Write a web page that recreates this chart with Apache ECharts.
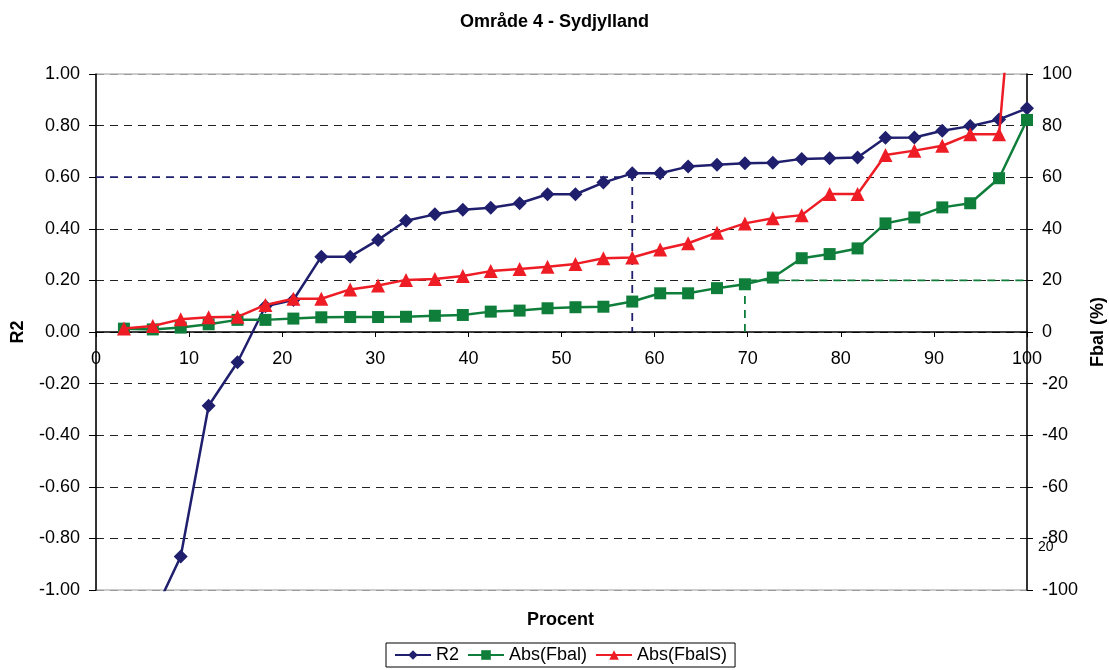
<!DOCTYPE html>
<html>
<head>
<meta charset="utf-8">
<script src="https://cdn.jsdelivr.net/npm/echarts@6/dist/echarts.min.js"></script>
<style>html,body{margin:0;padding:0;background:#fff;}#c{width:1109px;height:670px;}</style>
</head>
<body>
<div id="c"></div>
<script>
const titleText = 'Område 4 - Sydjylland';
const xName = 'Procent';
const yLeftName = 'R2';
const yRightName = 'Fbal (%)';
const procent = [3.0, 6.1, 9.1, 12.1, 15.2, 18.2, 21.2, 24.2, 27.3, 30.3, 33.3, 36.4, 39.4, 42.4, 45.5, 48.5, 51.5, 54.5, 57.6, 60.6, 63.6, 66.7, 69.7, 72.7, 75.8, 78.8, 81.8, 84.8, 87.9, 90.9, 93.9, 97.0, 100.0];
const r2 = [-1.6, -1.10, -0.87, -0.286, -0.117, 0.10, 0.124, 0.292, 0.292, 0.357, 0.431, 0.456, 0.474, 0.482, 0.499, 0.534, 0.534, 0.579, 0.615, 0.615, 0.641, 0.648, 0.654, 0.656, 0.671, 0.673, 0.676, 0.753, 0.754, 0.780, 0.798, 0.824, 0.867];
const absFbal = [1.3, 1.0, 1.7, 3.0, 4.7, 4.7, 5.2, 5.7, 5.8, 5.8, 5.9, 6.3, 6.6, 7.9, 8.3, 9.2, 9.6, 9.8, 11.8, 15.0, 15.0, 17.0, 18.5, 21.1, 28.6, 30.2, 32.4, 42.1, 44.4, 48.3, 49.9, 59.6, 82.2];
const absFbalS = [1.4, 2.3, 4.9, 5.7, 5.9, 10.5, 12.9, 12.9, 16.5, 18.0, 20.2, 20.5, 21.7, 23.6, 24.4, 25.3, 26.4, 28.6, 28.9, 32.0, 34.4, 38.5, 42.1, 44.1, 45.3, 53.5, 53.5, 68.6, 70.3, 72.2, 76.6, 76.6, 200];
// reference guide lines (x in Procent, y in axis units)
const refR2Path = [[0, 0.6], [57.6, 0.6], [57.6, 0]];
const refFbalPath = [[69.7, 0], [69.7, 20], [100, 20]];
const seriesNames = ['R2', 'Abs(Fbal)', 'Abs(FbalS)'];
const strayLabel = '20';

const FONT = 'Liberation Sans, Arial, sans-serif';
const cNavy = '#1F1F6E', cGreen = '#0E7E3A', cRed = '#EE1C25';
const zip = (xs, ys) => xs.map((x, i) => [x, ys[i]]);

const splitColors = ['#9a9a9a', '#222', '#222', '#222', '#222', '#222', '#222', '#222', '#222', '#222', '#9a9a9a'];

const chart = echarts.init(document.getElementById('c'), null, {renderer: 'canvas'});
chart.setOption({
  backgroundColor: '#fff',
  animation: false,
  textStyle: {fontFamily: FONT},
  title: {text: titleText, left: 'center', top: 8, textStyle: {fontFamily: FONT, fontSize: 18, fontWeight: 'bold', color: '#000'}},
  grid: {left: 96, right: 82, top: 74, bottom: 80, containLabel: false, outerBoundsMode: 'none',
         show: true, borderColor: '#9a9a9a', borderWidth: 1},
  legend: {
    data: seriesNames, left: 386, top: 643, padding: [3, 8, 3, 8], itemGap: 8, itemWidth: 36, itemHeight: 12,
    borderColor: '#000', borderWidth: 1,
    textStyle: {fontFamily: FONT, fontSize: 18, color: '#000'}
  },
  xAxis: {
    type: 'value', min: 0, max: 100, interval: 10, position: 'bottom', offset: -258,
    axisLine: {onZero: false, lineStyle: {color: '#000', width: 1.5}},
    axisTick: {show: true, length: 5, lineStyle: {color: '#000'}},
    axisLabel: {fontFamily: FONT, fontSize: 18, color: '#000', margin: 18},
    splitLine: {show: false}
  },
  yAxis: [
    {
      type: 'value', min: -1, max: 1, interval: 0.2, position: 'left',
      name: yLeftName, nameLocation: 'middle', nameRotate: 90, nameGap: 69,
      nameTextStyle: {fontFamily: FONT, fontSize: 18, fontWeight: 'bold', color: '#000'},
      axisLine: {show: true, onZero: false, lineStyle: {color: '#000', width: 1.5}},
      axisTick: {show: true, length: 7, lineStyle: {color: '#000'}},
      axisLabel: {fontFamily: FONT, fontSize: 18, color: '#000', margin: 16, formatter: v => v.toFixed(2)},
      splitLine: {show: true, lineStyle: {color: splitColors, type: [8, 6], width: 1}}
    },
    {
      type: 'value', min: -100, max: 100, interval: 20, position: 'right',
      name: yRightName, nameLocation: 'middle', nameRotate: 90, nameGap: 59,
      nameTextStyle: {fontFamily: FONT, fontSize: 18, fontWeight: 'bold', color: '#000'},
      axisLine: {show: true, onZero: false, lineStyle: {color: '#000', width: 1.5}},
      axisTick: {show: true, length: 6, lineStyle: {color: '#000'}},
      axisLabel: {fontFamily: FONT, fontSize: 18, color: '#000', margin: 15},
      splitLine: {show: false}
    }
  ],
  graphic: [
    {type: 'text', left: 527, top: 611, style: {text: xName, font: 'bold 18px ' + FONT, fill: '#000'}},
    {type: 'text', left: 1038, top: 540, style: {text: strayLabel, font: '14px ' + FONT, fill: '#000'}}
  ],
  series: [
    {name: 'refR2', type: 'line', yAxisIndex: 0, data: refR2Path, symbol: 'none', z: 1,
     lineStyle: {color: cNavy, width: 1.8, type: [8, 6]}, silent: true},
    {name: 'refFbal', type: 'line', yAxisIndex: 1, data: refFbalPath, symbol: 'none', z: 1,
     lineStyle: {color: cGreen, width: 1.8, type: [8, 6]}, silent: true},
    {name: seriesNames[0], type: 'line', yAxisIndex: 0, data: zip(procent, r2), clip: true, z: 3,
     symbol: 'diamond', symbolSize: 14, itemStyle: {color: cNavy}, lineStyle: {color: cNavy, width: 2.5}},
    {name: seriesNames[1], type: 'line', yAxisIndex: 1, data: zip(procent, absFbal), clip: true, z: 4,
     symbol: 'rect', symbolSize: 12, itemStyle: {color: cGreen}, lineStyle: {color: cGreen, width: 2.5}},
    {name: seriesNames[2], type: 'line', yAxisIndex: 1, data: zip(procent, absFbalS), clip: true, z: 5,
     symbol: 'triangle', symbolSize: 14, itemStyle: {color: cRed}, lineStyle: {color: cRed, width: 2.5}}
  ]
});
</script>
</body>
</html>
